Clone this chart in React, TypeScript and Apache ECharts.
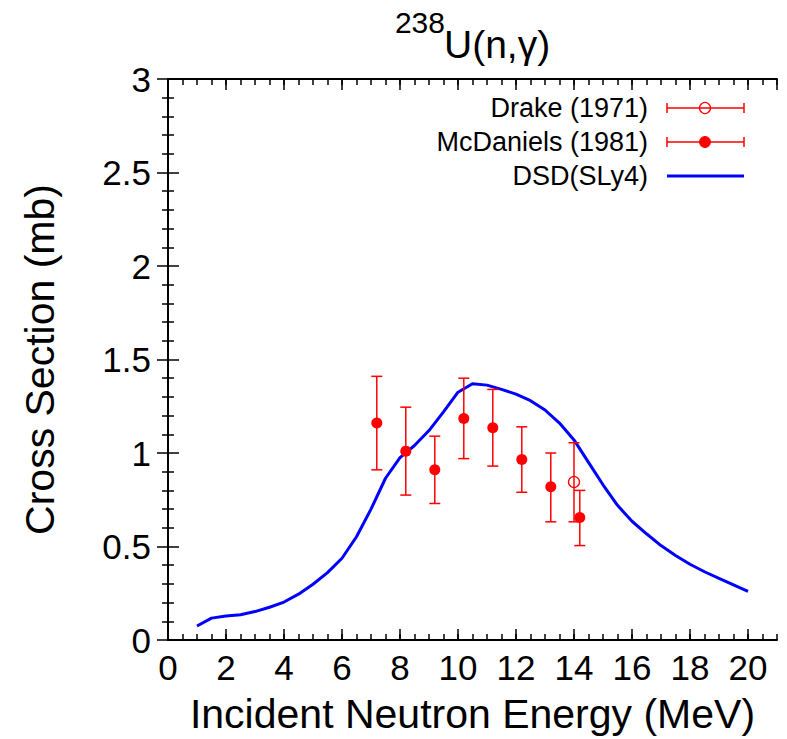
import React, { useEffect, useRef } from "react";
import * as echarts from "echarts";

// DSD(SLy4) calculation: [energy (MeV), cross section (mb)]
const dsdEnergy = [1.0, 1.5, 2.0, 2.5, 3.0, 3.5, 4.0, 4.5, 5.0, 5.5, 6.0, 6.5, 7.0, 7.5, 8.0, 8.5, 9.0, 9.5, 10.0, 10.5, 11.0, 11.5, 12.0, 12.5, 13.0, 13.5, 14.0, 14.5, 15.0, 15.5, 16.0, 16.5, 17.0, 17.5, 18.0, 18.5, 19.0, 19.5, 20.0];
const dsdSigma = [0.075, 0.117, 0.128, 0.135, 0.152, 0.175, 0.203, 0.245, 0.298, 0.36, 0.437, 0.552, 0.70, 0.865, 0.975, 1.04, 1.12, 1.22, 1.325, 1.37, 1.363, 1.34, 1.315, 1.28, 1.23, 1.16, 1.07, 0.95, 0.83, 0.72, 0.635, 0.568, 0.505, 0.452, 0.405, 0.365, 0.33, 0.295, 0.26];

// McDaniels (1981)
const mcdEnergy = [7.2, 8.2, 9.2, 10.2, 11.2, 12.2, 13.2, 14.2];
const mcdSigma = [1.16, 1.01, 0.91, 1.185, 1.135, 0.965, 0.82, 0.655];
const mcdHigh = [1.41, 1.245, 1.09, 1.40, 1.34, 1.14, 1.0, 0.80];
const mcdLow = [0.91, 0.775, 0.73, 0.97, 0.93, 0.79, 0.632, 0.505];

// Drake (1971)
const drakeEnergy = [14.0];
const drakeSigma = [0.845];
const drakeHigh = [1.055];
const drakeLow = [0.632];

const xTicks = [0, 2, 4, 6, 8, 10, 12, 14, 16, 18, 20];
const yTicks = [0, 0.5, 1, 1.5, 2, 2.5, 3];

const FONT = "'Liberation Sans', Arial, Helvetica, sans-serif";
const RED = "#ff0000";
const BLUE = "#0000ff";

function errorBarRender(params: any, api: any) {
  const x = api.value(0);
  const lo = api.coord([x, api.value(1)]);
  const hi = api.coord([x, api.value(2)]);
  const hw = 5.5;
  const style = { stroke: RED, lineWidth: 1.5 };
  return {
    type: "group",
    children: [
      { type: "line", shape: { x1: lo[0], y1: lo[1], x2: hi[0], y2: hi[1] }, style },
      { type: "line", shape: { x1: lo[0] - hw, y1: lo[1], x2: lo[0] + hw, y2: lo[1] }, style },
      { type: "line", shape: { x1: hi[0] - hw, y1: hi[1], x2: hi[0] + hw, y2: hi[1] }, style },
    ],
  };
}

export default function App() {
  const ref = useRef<HTMLDivElement>(null);
  useEffect(() => {
    document.body.style.margin = "0";
    const chart = echarts.init(ref.current!, null, { renderer: "svg" });
    const axisLineStyle = { color: "#000", width: 2 };
    const baseX = {
      type: "value",
      min: 0,
      max: 21,
      splitLine: { show: false },
    };
    const legendY = [108, 142, 176];
    const lx1 = 667;
    const lx2 = 744;
    const lmid = 705;
    const legendTexts = ["Drake (1971)", "McDaniels (1981)", "DSD(SLy4)"];
    const errLegend = (y: number) => [
      { type: "line", shape: { x1: lx1, y1: y, x2: lx2, y2: y }, style: { stroke: RED, lineWidth: 1.5 } },
      { type: "line", shape: { x1: lx1, y1: y - 5, x2: lx1, y2: y + 5 }, style: { stroke: RED, lineWidth: 1.5 } },
      { type: "line", shape: { x1: lx2, y1: y - 5, x2: lx2, y2: y + 5 }, style: { stroke: RED, lineWidth: 1.5 } },
    ];
    const option: any = {
      animation: false,
      backgroundColor: "#fff",
      grid: { left: 168, right: 10, top: 79, bottom: 97, containLabel: false },
      xAxis: [
        {
          ...baseX,
          position: "bottom",
          interval: 2,
          name: "Incident Neutron Energy (MeV)",
          nameLocation: "middle",
          nameGap: 53,
          nameTextStyle: { fontSize: 41, color: "#000", fontFamily: FONT },
          axisLine: { show: true, lineStyle: axisLineStyle },
          axisTick: { show: true, inside: true, length: 11, lineStyle: { color: "#000", width: 1.5 } },
          axisLabel: {
            show: true,
            fontSize: 35,
            color: "#000",
            fontFamily: FONT,
            margin: 10,
            showMaxLabel: false,
            formatter: (v: number) => (xTicks.includes(v) ? String(v) : ""),
          },
        },
        {
          ...baseX,
          position: "bottom",
          interval: 0.5,
          axisLine: { show: false },
          axisTick: { show: true, inside: true, length: 6, lineStyle: { color: "#000", width: 1.5 } },
          axisLabel: { show: false },
        },
        {
          ...baseX,
          position: "top",
          interval: 2,
          axisLine: { show: true, lineStyle: axisLineStyle },
          axisTick: { show: true, inside: true, length: 11, lineStyle: { color: "#000", width: 1.5 } },
          axisLabel: { show: false },
        },
        {
          ...baseX,
          position: "top",
          interval: 0.5,
          axisLine: { show: false },
          axisTick: { show: true, inside: true, length: 6, lineStyle: { color: "#000", width: 1.5 } },
          axisLabel: { show: false },
        },
      ],
      yAxis: [
        {
          type: "value",
          position: "left",
          min: 0,
          max: 3,
          interval: 0.5,
          name: "Cross Section (mb)",
          nameLocation: "middle",
          nameGap: 108,
          nameTextStyle: { fontSize: 41, color: "#000", fontFamily: FONT },
          splitLine: { show: false },
          axisLine: { show: true, lineStyle: axisLineStyle },
          axisTick: { show: true, inside: true, length: 11, lineStyle: { color: "#000", width: 1.5 } },
          minorTick: { show: true, splitNumber: 5, length: 6, lineStyle: { color: "#000", width: 1.5 } },
          axisLabel: {
            fontSize: 35,
            color: "#000",
            fontFamily: FONT,
            margin: 17,
            formatter: (v: number) => (yTicks.includes(v) ? String(v) : ""),
          },
        },
        {
          type: "value",
          position: "right",
          min: 0,
          max: 3,
          interval: 0.5,
          splitLine: { show: false },
          axisLine: { show: true, lineStyle: axisLineStyle },
          axisTick: { show: true, inside: true, length: 11, lineStyle: { color: "#000", width: 1.5 } },
          minorTick: { show: true, splitNumber: 5, length: 6, lineStyle: { color: "#000", width: 1.5 } },
          axisLabel: { show: false },
        },
      ],
      graphic: [
        {
          type: "text",
          x: 445,
          y: 22,
          style: { text: "238", fontSize: 30, fontFamily: FONT, fill: "#000", align: "right", verticalAlign: "middle" },
        },
        {
          type: "text",
          x: 444,
          y: 44,
          style: { text: "U(n,γ)", fontSize: 39, fontFamily: FONT, fill: "#000", align: "left", verticalAlign: "middle" },
        },
        ...legendTexts.map((t, i) => ({
          type: "text",
          x: 648,
          y: legendY[i],
          style: { text: t, fontSize: 27, fontFamily: FONT, fill: "#000", align: "right", verticalAlign: "middle" },
        })),
        ...errLegend(legendY[0]),
        { type: "circle", shape: { cx: lmid, cy: legendY[0], r: 5.5 }, style: { stroke: RED, fill: "none", lineWidth: 1.3 } },
        ...errLegend(legendY[1]),
        { type: "circle", shape: { cx: lmid, cy: legendY[1], r: 5.5 }, style: { stroke: RED, fill: RED } },
        { type: "line", shape: { x1: lx1, y1: legendY[2], x2: lx2, y2: legendY[2] }, style: { stroke: BLUE, lineWidth: 3 } },
      ],
      series: [
        {
          name: "DSD(SLy4)",
          type: "line",
          xAxisIndex: 0,
          yAxisIndex: 0,
          data: dsdEnergy.map((e, i) => [e, dsdSigma[i]]),
          symbol: "none",
          smooth: false,
          lineStyle: { color: BLUE, width: 3 },
          z: 3,
        },
        {
          name: "McDaniels err",
          type: "custom",
          xAxisIndex: 0,
          yAxisIndex: 0,
          renderItem: errorBarRender,
          encode: { x: 0, y: [1, 2] },
          data: mcdEnergy.map((e, i) => [e, mcdLow[i], mcdHigh[i]]),
          z: 4,
        },
        {
          name: "Drake err",
          type: "custom",
          xAxisIndex: 0,
          yAxisIndex: 0,
          renderItem: errorBarRender,
          encode: { x: 0, y: [1, 2] },
          data: drakeEnergy.map((e, i) => [e, drakeLow[i], drakeHigh[i]]),
          z: 4,
        },
        {
          name: "McDaniels (1981)",
          type: "scatter",
          xAxisIndex: 0,
          yAxisIndex: 0,
          data: mcdEnergy.map((e, i) => [e, mcdSigma[i]]),
          symbol: "circle",
          symbolSize: 11,
          itemStyle: { color: RED, opacity: 1 },
          z: 5,
        },
        {
          name: "Drake (1971)",
          type: "scatter",
          xAxisIndex: 0,
          yAxisIndex: 0,
          data: drakeEnergy.map((e, i) => [e, drakeSigma[i]]),
          symbol: "circle",
          symbolSize: 11,
          itemStyle: { color: "transparent", borderColor: RED, borderWidth: 1.3, opacity: 1 },
          z: 5,
        },
      ],
    };
    chart.setOption(option);
    return () => chart.dispose();
  }, []);
  return (
    <div
      ref={ref}
      style={{ position: "absolute", left: 0, top: 0, width: 787, height: 739, background: "#fff" }}
    />
  );
}
